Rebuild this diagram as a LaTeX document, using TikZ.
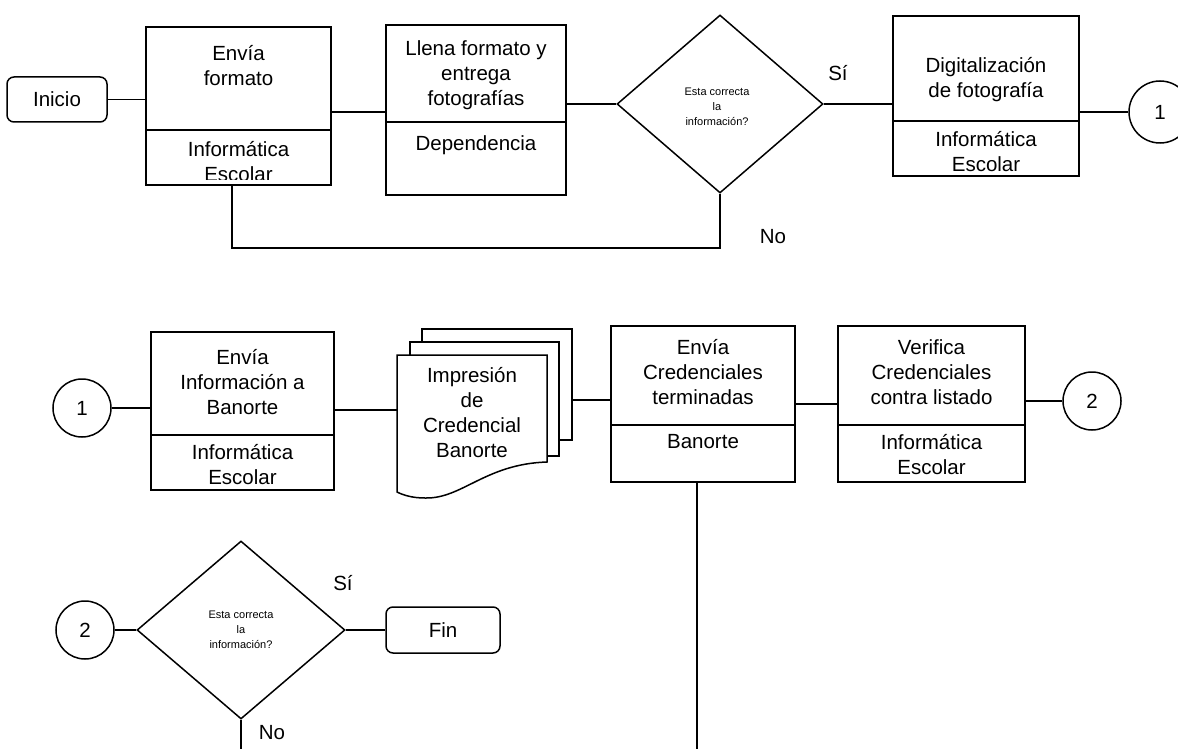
\documentclass[tikz,border=0pt]{standalone}
\usepackage{fontspec}
\setmainfont{Liberation Sans}
\usetikzlibrary{shapes.geometric}

\tikzset{
  caja/.style={draw, inner sep=0pt},
  texto/.style={align=center, inner sep=0pt},
  chico/.style={align=center, inner sep=0pt, font=\fontsize{11}{15}\selectfont},
  terminal/.style={draw, rounded corners=7pt, inner sep=0pt},
  conector/.style={draw, circle, inner sep=0pt, minimum size=58pt},
  decision/.style={draw, diamond, inner sep=0pt, minimum width=206pt, minimum height=178pt},
}

\begin{document}
\begin{tikzpicture}[x=1pt,y=-1pt,line width=1.5pt,font=\fontsize{20.5}{25}\selectfont]
\fill[white] (0,0) rectangle (1178,749);
\useasboundingbox (0,0) rectangle (1178,749);
%Fila superior
\node[terminal, minimum width=100pt, minimum height=45pt] (inicio) at (57,99.5) {Inicio};
%Shape: Rectangle envia formato
\node[caja, minimum width=185pt, minimum height=158pt] (envia) at (238.5,106) {};
\draw (envia.west |- 0,130) -- (envia.east |- 0,130);
\node[texto] (enviaarriba) at (238.5,65.5) {Envía\\formato};
\begin{scope}
\clip (146,130) rectangle (331,179);
\node[texto] (enviaabajo) at (238.5,161.5) {Informática\\Escolar};
\end{scope}
%Shape: Rectangle llena formato
\node[caja, minimum width=180pt, minimum height=170pt] (llena) at (476,110) {};
\draw (llena.west |- 0,122) -- (llena.east |- 0,122);
\node[texto] (llenaarriba) at (476,75) {Llena formato y\\entrega\\fotografías};
\node[texto] (llenaabajo) at (476,145) {Dependencia};
%Shape: Diamond
\node[decision] (dec1) at (720,104) {};
\node[chico] (dec1texto) at (717,106.5) {Esta correcta\\la\\información?};
%Shape: Rectangle digitalizacion
\node[caja, minimum width=186pt, minimum height=160pt] (digital) at (986,96) {};
\draw (digital.west |- 0,121) -- (digital.east |- 0,121);
\node[texto] (digitalarriba) at (986,80) {Digitalización\\de fotografía};
\node[texto] (digitalabajo) at (986,151.5) {Informática\\Escolar};
\node[conector, minimum size=62pt] (uno1) at (1160,112) {1};
% Text Node
\node[texto] (si1) at (838,73) {Sí};
\node[texto] (no1) at (773,237) {No};
%Straight Lines
\draw (inicio.east) -- (inicio.east -| envia.west);
\draw ([yshift=-6pt]envia.east) -- ([yshift=-6pt]envia.east -| llena.west);
\draw (llena.east |- dec1.west) -- (dec1.west);
\draw (dec1.east) -- (dec1.east -| digital.west);
\draw (digital.east |- uno1.west) -- (uno1.west);
\coordinate (retorno) at (232,248);
\draw (dec1.south) |- (retorno) -- (retorno |- envia.south);

%Fila media
\node[conector] (uno2) at (82,408) {1};
\node[caja, minimum width=183pt, minimum height=158pt] (enviainfo) at (242.5,411) {};
\draw (enviainfo.west |- 0,435) -- (enviainfo.east |- 0,435);
\node[texto] (enviainfoarriba) at (242.5,382.5) {Envía\\Información a\\Banorte};
\node[texto] (enviainfoabajo) at (242.5,464.5) {Informática\\Escolar};
%Shape: Multidocumento
\draw[fill=white] (422,329) rectangle (572,440);
\draw[fill=white] (410,342) rectangle (559,456);
\draw[fill=white] (397,355) -- (547,355) -- (547,462) .. controls (485,464) and (462,499) .. (425,498) .. controls (412,498) and (403,495) .. (397,492) -- cycle;
\node[texto] (impresion) at (472,412.5) {Impresión\\de\\Credencial\\Banorte};
\coordinate (hojaent) at (397,410);
\coordinate (hojasal) at (572,400);
%Shape: Rectangle envia credenciales
\node[caja, minimum width=184pt, minimum height=156pt] (terminadas) at (703,404) {};
\draw (terminadas.west |- 0,425) -- (terminadas.east |- 0,425);
\node[texto] (terminadasarriba) at (703,372) {Envía\\Credenciales\\terminadas};
\node[texto] (terminadasabajo) at (703,442) {Banorte};
%Shape: Rectangle verifica
\node[caja, minimum width=187pt, minimum height=156pt] (verifica) at (931.5,404) {};
\draw (verifica.west |- 0,425) -- (verifica.east |- 0,425);
\node[texto] (verificaarriba) at (931.5,372) {Verifica\\Credenciales\\contra listado};
\node[texto] (verificaabajo) at (931.5,455) {Informática\\Escolar};
\node[conector] (dos1) at (1092,401) {2};
%Straight Lines
\draw (uno2.east) -- (uno2.east -| enviainfo.west);
\draw (enviainfo.east |- hojaent) -- (hojaent);
\draw (hojasal) -- (hojasal -| terminadas.west);
\draw (terminadas.east) -- (verifica.west);
\draw (verifica.east |- dos1.west) -- (dos1.west);
\coordinate (bajada) at (697,752);
\draw (terminadas.south -| bajada) -- (bajada);

%Fila inferior
\node[conector] (dos2) at (85,630) {2};
\node[decision, minimum width=208pt] (dec2) at (241,630) {};
\node[chico] (dec2texto) at (241,629.5) {Esta correcta\\la\\información?};
\node[terminal, minimum width=114pt, minimum height=46pt] (fin) at (443,630) {Fin};
% Text Node
\node[texto] (si2) at (343,583) {Sí};
\node[texto] (no2) at (272,733) {No};
%Straight Lines
\draw (dos2.east) -- (dec2.west);
\draw (dec2.east) -- (fin.west);
\coordinate (bajada2) at (241,752);
\draw (dec2.south) -- (bajada2);
\end{tikzpicture}
\end{document}
